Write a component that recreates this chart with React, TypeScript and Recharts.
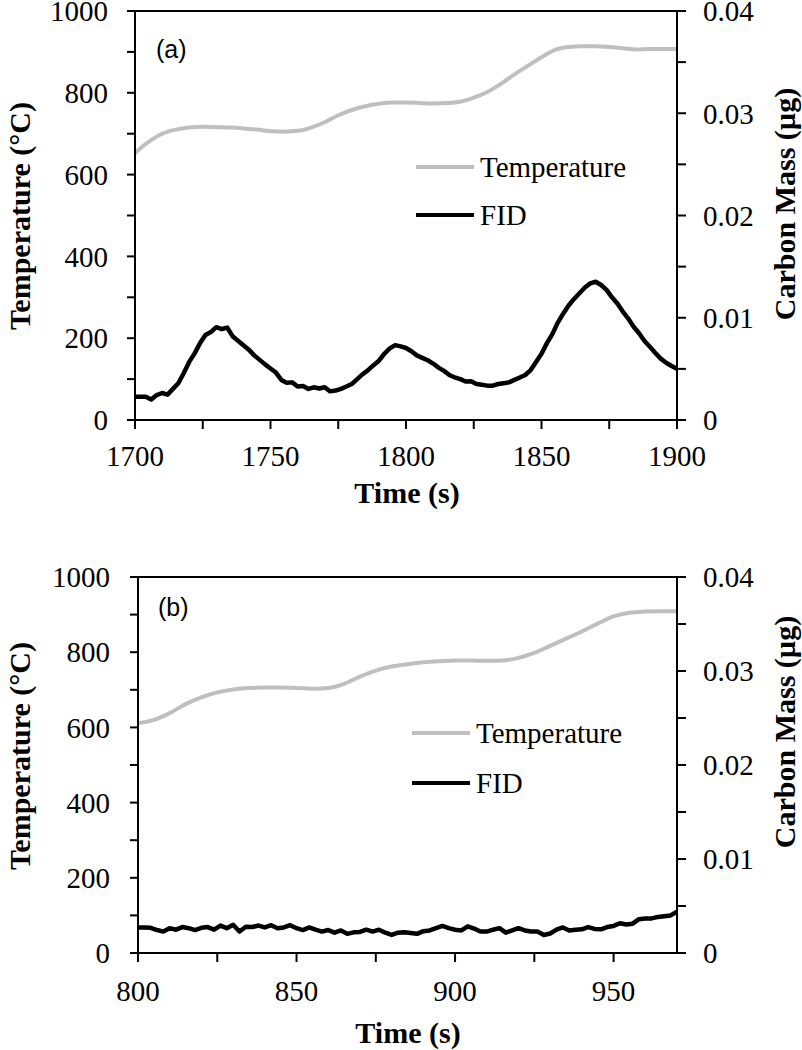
import React from 'react';
import { LineChart, Line, XAxis, YAxis, ReferenceLine, Legend } from 'recharts';

// (a) run, 1700-1900 s
const tempStartA = 1700;
const tempStepA = 5;
const tempA = [
  653, 680, 700, 710, 715, 717, 716, 715, 713, 710,
  706, 705, 707, 715, 728, 745, 758, 767, 773, 776,
  776, 775, 774, 775, 778, 788, 802, 822, 845, 866,
  887, 905, 912, 914, 914, 912, 909, 906, 907, 907,
  908,
];
const fidStartA = 1700;
const fidStepA = 2;
// carbon mass (µg)
const fidA = [
  0.00228, 0.00228, 0.00228, 0.0020, 0.00244, 0.00264, 0.00248, 0.00304, 0.0036, 0.0046,
  0.00568, 0.00652, 0.00752, 0.00832, 0.0086, 0.00908, 0.00888, 0.00904, 0.0082, 0.00776,
  0.00732, 0.00688, 0.00632, 0.00588, 0.00544, 0.00504, 0.00464, 0.00392, 0.00364, 0.00368,
  0.00328, 0.00332, 0.00304, 0.0032, 0.00308, 0.0032, 0.0028, 0.00288, 0.00304, 0.00328,
  0.00352, 0.004, 0.00448, 0.00488, 0.00536, 0.0058, 0.00648, 0.007, 0.00732, 0.0072,
  0.00704, 0.00672, 0.00632, 0.00608, 0.00584, 0.00552, 0.00512, 0.0048, 0.0044, 0.00416,
  0.004, 0.00376, 0.0038, 0.00352, 0.00344, 0.00336, 0.00336, 0.00352, 0.0036, 0.00368,
  0.00392, 0.00416, 0.0044, 0.00488, 0.00568, 0.00648, 0.00752, 0.0084, 0.00952, 0.0104,
  0.0112, 0.01184, 0.0124, 0.01296, 0.01336, 0.01352, 0.0132, 0.01272, 0.012, 0.0114,
  0.0106, 0.00992, 0.00912, 0.00848, 0.00772, 0.00716, 0.00656, 0.006, 0.0056, 0.00528,
  0.005,
];
const timeTicksA = [1700, 1725, 1750, 1775, 1800, 1825, 1850, 1875, 1900];

// (b) run, 800-970 s
const tempStartB = 800;
const tempStepB = 5;
const tempB = [
  611, 620, 638, 662, 680, 693, 701, 705, 706, 706,
  705, 703, 705, 716, 735, 751, 762, 768, 773, 776,
  778, 778, 777, 778, 785, 798, 817, 836, 855, 876,
  895, 905, 908, 909, 909,
];
const fidStartB = 800;
const fidStepB = 2;
const fidB = [
  0.00272, 0.00272, 0.00268, 0.00244, 0.00228, 0.00264, 0.00248, 0.00276, 0.00264, 0.00244,
  0.00268, 0.00276, 0.00248, 0.00292, 0.00264, 0.003, 0.00228, 0.0028, 0.00276, 0.00292,
  0.00272, 0.00296, 0.00264, 0.00272, 0.00296, 0.00264, 0.00244, 0.00272, 0.00248, 0.00228,
  0.00244, 0.00216, 0.0024, 0.00204, 0.0022, 0.00224, 0.00248, 0.00228, 0.00248, 0.00216,
  0.00192, 0.00216, 0.0022, 0.00212, 0.00204, 0.00232, 0.0024, 0.00264, 0.00288, 0.00264,
  0.00248, 0.0024, 0.00284, 0.0026, 0.00228, 0.00228, 0.00248, 0.00264, 0.00216, 0.0024,
  0.00264, 0.0024, 0.00228, 0.00228, 0.00192, 0.00208, 0.00248, 0.00272, 0.0024, 0.00248,
  0.00252, 0.00276, 0.00256, 0.00252, 0.00276, 0.00288, 0.00316, 0.00304, 0.00312, 0.0036,
  0.00368, 0.00368, 0.00384, 0.00392, 0.004, 0.0044,
];
const timeTicksB = [800, 825, 850, 875, 900, 925, 950];

const tempTicks = [0, 100, 200, 300, 400, 500, 600, 700, 800, 900, 1000];
const massTicks = [0, 0.005, 0.01, 0.015, 0.02, 0.025, 0.03, 0.035, 0.04];

const seriesNames = ['Temperature', 'FID'];
const seriesColors = ['#bfbfbf', '#000000'];

const serif = 'Liberation Serif, Times New Roman, serif';
const axisLine = { stroke: '#000', strokeWidth: 2 };

const toSeries = (vals: number[], start: number, step: number) =>
  vals.map((v, i) => ({ t: start + i * step, v }));

const fmtTemp = (v: number) => (v % 200 === 0 ? String(v) : '');
const fmtMass = (v: number) => {
  const k = Math.round(v * 1000);
  return k % 10 === 0 ? String(k / 1000) : '';
};
const fmtTime = (v: number) => (v % 50 === 0 ? String(v) : '');

const makeTick = (fmt: (v: number) => string, anchor: string, dy: string) => (props: any) => (
  <text
    x={props.x}
    y={props.y}
    dy={dy}
    textAnchor={anchor}
    fontFamily={serif}
    fontSize={29}
    fill="#000"
  >
    {fmt(props.payload.value)}
  </text>
);

const makeLegend = (rowH: number) => () => (
  <div style={{ fontFamily: serif, fontSize: 29, color: '#000' }}>
    {seriesNames.map((name, i) => (
      <div key={name} style={{ display: 'flex', alignItems: 'center', height: rowH }}>
        <svg width={64} height={8} style={{ display: 'block' }}>
          <line x1={0} x2={58} y1={4} y2={4} stroke={seriesColors[i]} strokeWidth={4} />
        </svg>
        <span style={{ lineHeight: '30px' }}>{name}</span>
      </div>
    ))}
  </div>
);

const vText = (text: string, x: number, y: number) => () => (
  <text
    x={x}
    y={y}
    transform={`rotate(-90 ${x} ${y})`}
    textAnchor="middle"
    fontFamily={serif}
    fontWeight="bold"
    fontSize={30}
    fill="#000"
  >
    {text}
  </text>
);

const hText = (text: string, x: number, y: number) => () => (
  <text x={x} y={y} textAnchor="middle" fontFamily={serif} fontWeight="bold" fontSize={30} fill="#000">
    {text}
  </text>
);

const panelText = (text: string, x: number, y: number) => () => (
  <text x={x} y={y} fontFamily="Liberation Sans, Arial, sans-serif" fontSize={25} fill="#000">
    {text}
  </text>
);

interface PanelProps {
  temp: { t: number; v: number }[];
  fid: { t: number; v: number }[];
  domain: [number, number];
  ticks: number[];
  height: number;
  top: number;
  leftW: number;
  xAxisH: number;
  leftMargin: number;
  bottomMargin: number;
  tag: string;
  tagPos: [number, number];
  titles: { temp: [number, number]; mass: [number, number]; time: [number, number] };
  legendPos: [number, number];
  legendRow: number;
}

function Panel(p: PanelProps) {
  return (
    <LineChart
      width={802}
      height={p.height}
      margin={{ top: p.top - 1, right: 0, bottom: 0, left: 0 }}
      style={{ fontFamily: serif }}
    >
      <XAxis
        xAxisId="x"
        type="number"
        dataKey="t"
        domain={p.domain}
        ticks={p.ticks}
        allowDataOverflow
        height={p.xAxisH}
        tick={makeTick(fmtTime, 'middle', '0.71em')}
        tickSize={9}
        tickMargin={p.bottomMargin}
        axisLine={axisLine}
        tickLine={axisLine}
        label={{ content: hText('Time (s)', p.titles.time[0], p.titles.time[1]) }}
      />
      {/* top edge of the frame */}
      <XAxis
        xAxisId="top"
        orientation="top"
        type="number"
        dataKey="t"
        domain={p.domain}
        ticks={p.ticks}
        allowDataOverflow
        height={1}
        tick={false}
        tickLine={false}
        axisLine={axisLine}
      />
      <YAxis
        yAxisId="left"
        domain={[0, 1000]}
        ticks={tempTicks}
        width={p.leftW}
        tick={makeTick(fmtTemp, 'end', '0.355em')}
        tickSize={8}
        tickMargin={p.leftMargin}
        axisLine={axisLine}
        tickLine={axisLine}
        label={{ content: vText('Temperature (°C)', p.titles.temp[0], p.titles.temp[1]) }}
      />
      <YAxis
        yAxisId="right"
        orientation="right"
        domain={[0, 0.04]}
        ticks={massTicks}
        width={125}
        tick={makeTick(fmtMass, 'start', '0.355em')}
        tickSize={9}
        tickMargin={17}
        axisLine={axisLine}
        tickLine={axisLine}
        label={{ content: vText('Carbon Mass (µg)', p.titles.mass[0], p.titles.mass[1]) }}
      />
      <ReferenceLine
        xAxisId="x"
        yAxisId="left"
        y={1000}
        stroke="#000"
        strokeWidth={2}
        ifOverflow="visible"
        label={{ content: panelText(p.tag, p.tagPos[0], p.tagPos[1]) }}
      />
      <Line
        xAxisId="x"
        yAxisId="left"
        data={p.temp}
        dataKey="v"
        name={seriesNames[0]}
        type="monotone"
        stroke={seriesColors[0]}
        strokeWidth={4}
        dot={false}
        isAnimationActive={false}
      />
      <Line
        xAxisId="x"
        yAxisId="right"
        data={p.fid}
        dataKey="v"
        name={seriesNames[1]}
        type="linear"
        stroke={seriesColors[1]}
        strokeWidth={4.5}
        strokeLinejoin="round"
        dot={false}
        isAnimationActive={false}
      />
      <Legend
        layout="vertical"
        align="center"
        verticalAlign="middle"
        content={makeLegend(p.legendRow)}
        wrapperStyle={{ left: p.legendPos[0], top: p.legendPos[1], width: 280 }}
      />
    </LineChart>
  );
}

export default function App() {
  return (
    <div style={{ position: 'absolute', left: 0, top: 0, width: 802, height: 1050, background: '#fff' }}>
      <Panel
        temp={toSeries(tempA, tempStartA, tempStepA)}
        fid={toSeries(fidA, fidStartA, fidStepA)}
        domain={[1700, 1900]}
        ticks={timeTicksA}
        height={520}
        top={11}
        leftW={135}
        xAxisH={100}
        leftMargin={19}
        bottomMargin={16}
        tag="(a)"
        tagPos={[156, 58]}
        titles={{ temp: [30, 216], mass: [795, 204], time: [407, 503] }}
        legendPos={[416, 143]}
        legendRow={48}
      />
      <Panel
        temp={toSeries(tempB, tempStartB, tempStepB)}
        fid={toSeries(fidB, fidStartB, fidStepB)}
        domain={[800, 970]}
        ticks={timeTicksB}
        height={530}
        top={57}
        leftW={138}
        xAxisH={97}
        leftMargin={20}
        bottomMargin={18}
        tag="(b)"
        tagPos={[158, 96]}
        titles={{ temp: [30, 236], mass: [795, 212], time: [408, 523] }}
        legendPos={[412, 188]}
        legendRow={50}
      />
    </div>
  );
}
